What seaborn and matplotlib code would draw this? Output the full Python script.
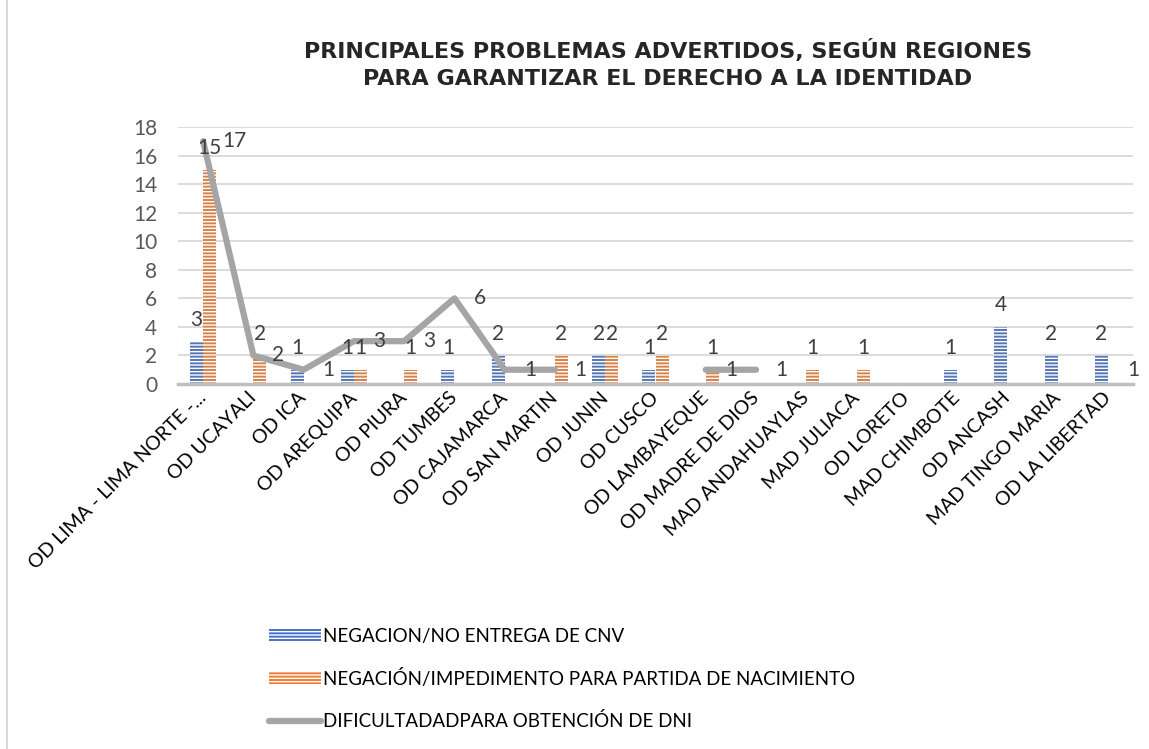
import numpy as np
import pandas as pd
import matplotlib
matplotlib.use("Agg")
import matplotlib.pyplot as plt
import seaborn as sns
from matplotlib.patches import Patch
from matplotlib.lines import Line2D

categories = ["OD LIMA - LIMA NORTE -...", "OD UCAYALI", "OD ICA", "OD AREQUIPA", "OD PIURA",
              "OD TUMBES", "OD CAJAMARCA", "OD SAN MARTIN", "OD JUNIN", "OD CUSCO",
              "OD LAMBAYEQUE", "OD MADRE DE DIOS", "MAD ANDAHUAYLAS", "MAD JULIACA",
              "OD LORETO", "MAD CHIMBOTE", "OD ANCASH", "MAD TINGO MARIA", "OD LA LIBERTAD"]
cnv = [3, np.nan, 1, 1, np.nan, 1, 2, np.nan, 2, 1, np.nan, np.nan, np.nan, np.nan, np.nan, 1, 4, 2, 2]
partida = [15, 2, np.nan, 1, 1, np.nan, np.nan, 2, 2, 2, 1, np.nan, 1, 1, np.nan, np.nan, np.nan, np.nan, np.nan]
dni = [17, 2, 1, 3, 3, 6, 1, 1, np.nan, np.nan, 1, 1, np.nan, np.nan, np.nan, np.nan, np.nan, np.nan, 1]

s_cnv = "NEGACION/NO ENTREGA DE CNV"
s_par = "NEGACIÓN/IMPEDIMENTO PARA PARTIDA DE NACIMIENTO"
s_dni = "DIFICULTADADPARA OBTENCIÓN DE DNI"
title = "PRINCIPALES PROBLEMAS ADVERTIDOS, SEGÚN REGIONES\nPARA GARANTIZAR EL DERECHO A LA IDENTIDAD"

sns.set_theme(style="white")
plt.rcParams["font.family"] = ["Lato", "DejaVu Sans"]
plt.rcParams["hatch.linewidth"] = 1.0

BLUE = "#4472C4"
ORANGE = "#ED7D31"
GRAY = "#A5A5A5"

df = pd.DataFrame({
    "cat": categories * 2,
    "val": list(np.nan_to_num(cnv)) + list(np.nan_to_num(partida)),
    "serie": [s_cnv] * len(categories) + [s_par] * len(categories),
})

fig = plt.figure(figsize=(11.49, 7.49), dpi=100)
ax = fig.add_axes([178 / 1149, 1 - 384 / 749, (1133 - 178) / 1149, (384 - 127) / 749])

sns.barplot(data=df, x="cat", y="val", hue="serie", order=categories,
            hue_order=[s_cnv, s_par], palette=[BLUE, ORANGE], width=0.52,
            gap=0.0, ax=ax, legend=False, edgecolor="white", linewidth=0)
for cont in ax.containers:
    for p in cont:
        p.set_hatch("-----")
        p.set_edgecolor("white")
        p.set_linewidth(0)

x = np.arange(len(categories))
ax.plot(x, dni, color=GRAY, lw=4.5, solid_capstyle="round", zorder=3)

lab_col = "#404040"
for cont, vals in zip(ax.containers, [cnv, partida]):
    for p, v in zip(cont, vals):
        if not np.isnan(v):
            ax.text(p.get_x() + p.get_width() / 2, v + 0.8, f"{int(v)}",
                    ha="center", va="bottom", fontsize=15, color=lab_col, zorder=5)
for xi, v in zip(x, dni):
    if not np.isnan(v):
        ax.text(xi + 0.38, v, f"{int(v)}", ha="left", va="center",
                fontsize=15, color=lab_col, zorder=5)

ax.set_ylim(0, 18)
ax.set_xlim(-0.5, len(categories) - 0.5)
ax.set_yticks(range(0, 19, 2))
ax.yaxis.grid(True, color="#D9D9D9", lw=1.3)
ax.set_axisbelow(True)
for s in ["top", "right", "left"]:
    ax.spines[s].set_visible(False)
ax.spines["bottom"].set_color("#BFBFBF")
ax.spines["bottom"].set_linewidth(2.5)
ax.set_xlabel("")
ax.set_ylabel("")
ax.tick_params(axis="y", labelsize=15, labelcolor="#595959", length=0, pad=15)
ax.tick_params(axis="x", length=0, pad=8)
ax.set_xticks(x)
ax.set_xticklabels(categories, rotation=45, ha="right", rotation_mode="anchor",
                   fontsize=14, color="black")
for t in ax.get_xticklabels():
    t.set_va("center")

fig.text(0.581, 1 - 64 / 749, title, ha="center", va="center", fontsize=16,
         fontweight="bold", color="#262626", linespacing=1.4,
         family=["DejaVu Sans"])

handles = [
    Patch(facecolor=BLUE, edgecolor="white", linewidth=0, hatch="-----", label=s_cnv),
    Patch(facecolor=ORANGE, edgecolor="white", linewidth=0, hatch="-----", label=s_par),
    Line2D([0], [0], color=GRAY, lw=4.5, solid_capstyle="round", label=s_dni),
]
fig.legend(handles=handles, loc="upper left", bbox_to_anchor=(252 / 1149, 1 - 611 / 749),
           frameon=False, fontsize=13.5, handlelength=2.8, handleheight=0.6,
           handletextpad=0.1, labelspacing=1.28, labelcolor="black")

fig.add_artist(Line2D([7 / 1149, 7 / 1149], [0, 1], color="#D9D9D9", lw=1.5,
                      transform=fig.transFigure))

fig.savefig("out.png", dpi=100)
